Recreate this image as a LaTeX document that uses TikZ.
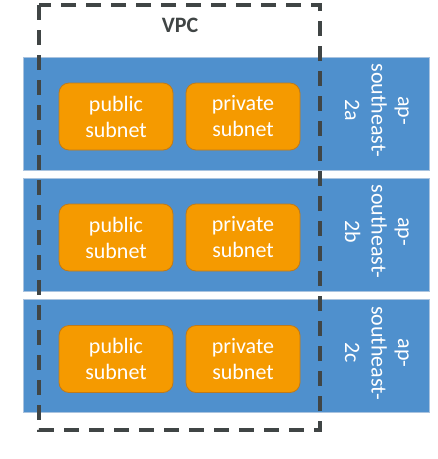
\documentclass[tikz,border=0pt]{standalone}
\usepackage{fontspec}
\setmainfont{Carlito}
\usepackage{xcolor}
\usepackage{tikz}

\definecolor{azblue}{HTML}{4F90CD}
\definecolor{azedge}{HTML}{A9C3DF}
\definecolor{snorange}{HTML}{F59A00}
\definecolor{snedge}{HTML}{BF7A1A}
\definecolor{vpcgrey}{HTML}{404545}

\tikzset{
  zone/.style={draw=azedge, fill=azblue, line width=1pt, minimum width=406pt,
    minimum height=113pt, inner sep=0pt},
  subnet/.style={draw=snedge, fill=snorange, line width=0.8pt, rounded corners=10pt,
    minimum width=114pt, minimum height=67pt, inner sep=0pt, text=white, align=center,
    font=\fontsize{22}{26}\selectfont},
  zonelabel/.style={text=white, align=center, rotate=-90, inner sep=0pt,
    font=\fontsize{22}{26.5}\selectfont},
  vpcline/.style={draw=vpcgrey, line width=3.6pt, dash pattern=on 15pt off 10pt}
}

\begin{document}
\begin{tikzpicture}[x=1pt, y=-1pt]
    \useasboundingbox (0,0) rectangle (438,459);

    % Availability zones
    \foreach \z/\y in {a/113.5, b/234.5, c/356}{
        \node[zone] (zone-\z) at (226,\y) {};
        \node[subnet] (pub-\z) at (116,\y+3) {public\\subnet};
        \node[subnet] (priv-\z) at (243,\y+3) {private\\subnet};
        \node[zonelabel] (label-\z) at (377,\y-3) {ap-\\southeast-\\2\z};
    }

    % VPC frame
    \draw[vpcline] (39,5) rectangle (320,430);
    \node[text=vpcgrey, font=\fontsize{22}{26}\selectfont\bfseries] (vpc) at (180,25) {VPC};
\end{tikzpicture}
\end{document}
